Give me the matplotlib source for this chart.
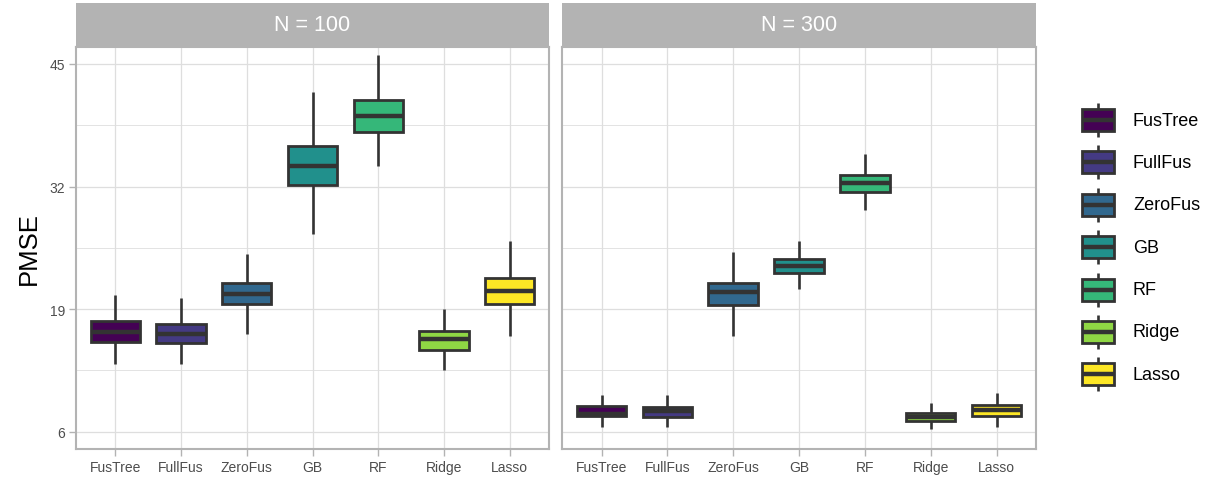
import matplotlib
matplotlib.use("Agg")
import matplotlib.pyplot as plt
from matplotlib.patches import Rectangle

plt.rcParams['font.family'] = ['Liberation Sans', 'DejaVu Sans']

methods = ["FusTree", "FullFus", "ZeroFus", "GB", "RF", "Ridge", "Lasso"]
colors = ["#440154", "#443A83", "#31688E", "#21908C", "#35B779", "#8FD744", "#FDE725"]
panels = ["N = 100", "N = 300"]

# five-number summaries per method: whisker low, q1, median, q3, whisker high
n100_lo = [13.2, 13.2, 16.4, 27.0, 34.2, 12.6, 16.1]
n100_q1 = [15.5, 15.4, 19.5, 32.2, 37.8, 14.7, 19.5]
n100_med = [16.6, 16.4, 20.6, 34.2, 39.5, 15.8, 20.9]
n100_q3 = [17.7, 17.4, 21.8, 36.3, 41.2, 16.7, 22.3]
n100_hi = [20.5, 20.2, 24.9, 42.0, 46.0, 19.0, 26.2]

n300_lo = [6.5, 6.5, 16.1, 21.1, 29.5, 6.3, 6.5]
n300_q1 = [7.7, 7.6, 19.4, 22.8, 31.4, 7.1, 7.7]
n300_med = [7.9, 8.2, 20.8, 23.6, 32.4, 7.6, 8.3]
n300_q3 = [8.7, 8.6, 21.8, 24.3, 33.2, 8.0, 8.8]
n300_hi = [9.9, 9.9, 25.1, 26.2, 35.5, 9.0, 10.1]

data = [
    (n100_lo, n100_q1, n100_med, n100_q3, n100_hi),
    (n300_lo, n300_q1, n300_med, n300_q3, n300_hi),
]

yticks = [6, 19, 32, 45]
yminor = [12.5, 25.5, 38.5]

W, H = 1221, 481
fig = plt.figure(figsize=(W / 100, H / 100), dpi=100)

edge = "#333333"
grid = "#DEDEDE"
frame = "#B3B3B3"

panel_x = [(76, 549), (562, 1036)]
top, bottom, strip_top = 47.7, 450, 4

for k, (x0, x1) in enumerate(panel_x):
    ax = fig.add_axes([x0 / W, (H - bottom) / H, (x1 - x0) / W, (bottom - top) / H])
    lo, q1, med, q3, hi = data[k]
    stats = [dict(whislo=lo[i], q1=q1[i], med=med[i], q3=q3[i], whishi=hi[i], fliers=[])
             for i in range(len(methods))]
    pos = list(range(1, len(methods) + 1))
    bp = ax.bxp(stats, positions=pos, widths=0.75, patch_artist=True, showcaps=False,
                boxprops=dict(edgecolor=edge, linewidth=2.0),
                medianprops=dict(color=edge, linewidth=3.2, solid_capstyle='butt'),
                whiskerprops=dict(color=edge, linewidth=1.9, solid_capstyle='butt'),
                zorder=3)
    for patch, c in zip(bp['boxes'], colors):
        patch.set_facecolor(c)

    ax.set_xlim(0.4, len(methods) + 0.6)
    ax.set_ylim(4.17, 46.83)
    ax.set_xticks(pos)
    ax.set_xticklabels(methods)
    ax.set_yticks(yticks)
    ax.set_yticks(yminor, minor=True)
    ax.tick_params(axis='both', which='major', colors=frame, labelcolor="#4D4D4D",
                   labelsize=10, length=5, width=1.0, pad=3)
    ax.tick_params(axis='y', which='minor', length=0)
    if k == 0:
        ax.set_yticklabels([str(t) for t in yticks])
        ax.set_ylabel("PMSE", fontsize=18.5, labelpad=6)
    else:
        ax.set_yticklabels([])
        ax.tick_params(axis='y', which='major', length=0)
    ax.grid(True, which='major', color=grid, linewidth=0.9, zorder=0)
    ax.grid(True, which='minor', axis='y', color=grid, linewidth=0.6, zorder=0)
    ax.set_axisbelow(True)
    for s in ax.spines.values():
        s.set_color(frame)
        s.set_linewidth(1.5)

    # facet strip
    sax = fig.add_axes([x0 / W, (H - top) / H, (x1 - x0) / W, (top - strip_top) / H])
    sax.set_facecolor(frame)
    sax.set_xticks([])
    sax.set_yticks([])
    for s in sax.spines.values():
        s.set_visible(False)
    sax.text(0.5, 0.5, panels[k], color="white", fontsize=15.5, ha='center', va='center',
             transform=sax.transAxes)

# legend with small boxplot keys
lax = fig.add_axes([0, 0, 1, 1], facecolor='none')
lax.set_xlim(0, W)
lax.set_ylim(H, 0)
lax.axis('off')
key_x, key_w, key_h = 1098, 32, 22
for i, (m, c) in enumerate(zip(methods, colors)):
    yc = 121 + i * 42.4
    lax.plot([key_x, key_x], [yc - 17, yc + 17], color=edge, lw=1.9, solid_capstyle='butt')
    lax.add_patch(Rectangle((key_x - key_w / 2, yc - key_h / 2), key_w, key_h,
                            facecolor=c, edgecolor=edge, lw=2.0, zorder=3))
    lax.plot([key_x - key_w / 2, key_x + key_w / 2], [yc, yc], color=edge, lw=3.2,
             solid_capstyle='butt', zorder=4)
    lax.text(1133, yc, m, fontsize=13, va='center', ha='left', color='black')

fig.savefig("out.png", dpi=100)
